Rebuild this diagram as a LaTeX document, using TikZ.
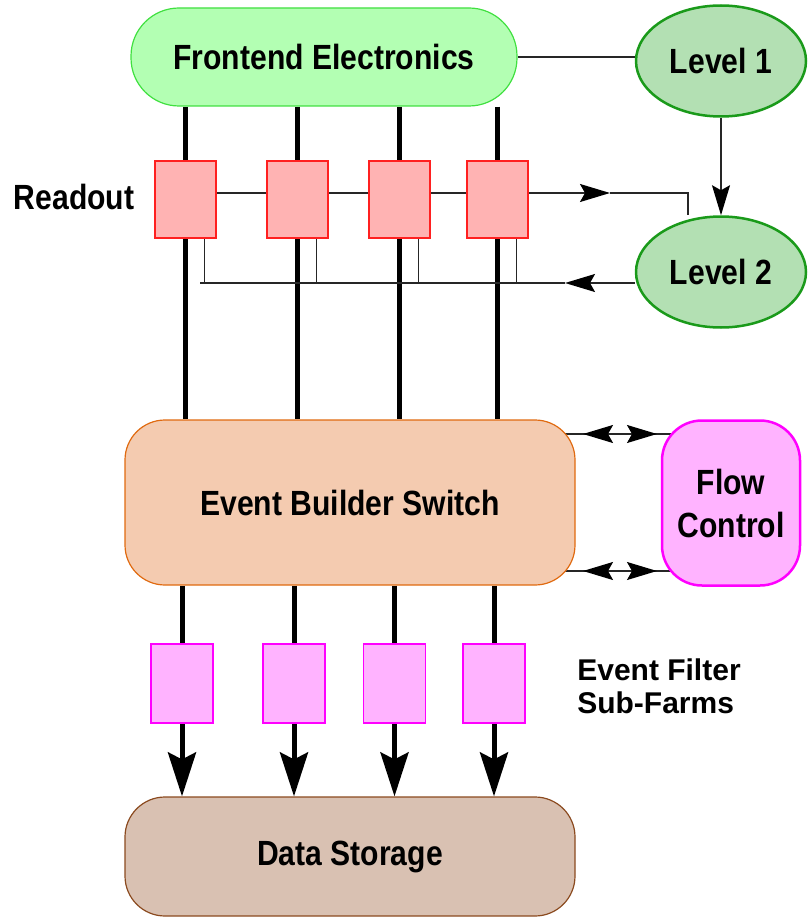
\documentclass[tikz,border=0pt]{standalone}
\usepackage{fontspec}
\setmainfont{Liberation Sans}
\usepackage{tikz}
\usetikzlibrary{arrows.meta,shapes.geometric,backgrounds}
\definecolor{feFill}{HTML}{B3FFB3}
\definecolor{feLine}{HTML}{40E040}
\definecolor{trigFill}{HTML}{B3E0B3}
\definecolor{trigLine}{HTML}{1A9A1A}
\definecolor{rdFill}{HTML}{FFB3B3}
\definecolor{rdLine}{HTML}{FF2020}
\definecolor{evbFill}{HTML}{F4CBB0}
\definecolor{evbLine}{HTML}{E06A10}
\definecolor{fcFill}{HTML}{FFB3FF}
\definecolor{fcLine}{HTML}{FF00FF}
\definecolor{dsFill}{HTML}{D9C1B2}
\definecolor{dsLine}{HTML}{8B4A1F}
\tikzset{
  txt/.style={font=\fontsize{35}{43}\selectfont\bfseries, align=center, inner sep=0pt},
  fenode/.style={txt, draw=feLine, line width=1.2pt, fill=feFill, rounded corners=48pt,
                 minimum width=386pt, minimum height=98pt},
  trignode/.style={txt, ellipse, draw=trigLine, line width=2.5pt, fill=trigFill,
                   minimum width=170pt, minimum height=111pt},
  rdbox/.style={draw=rdLine, line width=1.2pt, fill=rdFill, minimum width=61pt, minimum height=77pt},
  evbnode/.style={txt, draw=evbLine, line width=1.2pt, fill=evbFill, rounded corners=40pt,
                  minimum width=450pt, minimum height=165pt},
  flownode/.style={txt, draw=fcLine, line width=2.5pt, fill=fcFill, rounded corners=40pt,
                   minimum width=138pt, minimum height=165pt},
  farm/.style={draw=fcLine, line width=1.5pt, fill=fcFill, minimum width=62pt, minimum height=79pt},
  storenode/.style={txt, draw=dsLine, line width=1.2pt, fill=dsFill, rounded corners=40pt,
                    minimum width=450pt, minimum height=119pt},
  bus/.style={line width=5pt},
  sig/.style={line width=1.5pt, draw=black!85},
  tip/.style={-{Stealth[length=30pt,width=18pt,inset=5pt,black]}},
  bigtip/.style={-{Stealth[length=44pt,width=28pt,inset=7pt]}},
  twotip/.style={{Stealth[length=30pt,width=18pt,inset=5pt,black]}-{Stealth[length=30pt,width=18pt,inset=5pt,black]}}
}
\newcommand{\narrowlbl}[1]{\scalebox{0.86}[1]{#1}}

\begin{document}
\begin{tikzpicture}[x=1pt,y=-1pt]
  \useasboundingbox (0,0) rectangle (809,920);

  % trigger and frontend
  \node[fenode] (fe) at (324,57) {\narrowlbl{Frontend Electronics}};
  \node[trignode] (lvone) at (721,61) {\narrowlbl{Level 1}};
  \node[trignode] (lvtwo) at (721,272) {\narrowlbl{Level 2}};

  % readout units
  \foreach \i/\x in {1/185.5,2/297.5,3/399.5,4/497.5}
    \node[rdbox] (rd\i) at (\x,199.5) {};
  \node[txt] (rdlbl) at (74,197) {\narrowlbl{Readout}};

  % event builder
  \node[evbnode] (evb) at (350,502.5) {\narrowlbl{Event Builder Switch}};
  \node[flownode] (flow) at (731,503) {\narrowlbl{Flow}\\\narrowlbl{Control}};

  % filter farms and storage
  \foreach \i/\x in {1/182,2/294,3/394.5,4/494}
    \node[farm] (ef\i) at (\x,683.5) {};
  \node[txt, align=left, font=\fontsize{30}{33}\selectfont\bfseries] (eflbl) at (659,686)
    {Event Filter\\Sub-Farms};
  \node[storenode] (ds) at (350,856.5) {\narrowlbl{Data Storage}};

  \coordinate (aR) at (610,193);
  \coordinate (l2in) at (688,193);
  \coordinate (aL) at (565,283);
  \coordinate (rdend) at (200,283);
  \coordinate (fcA) at (583,434);
  \coordinate (fcB) at (657,434);
  \coordinate (fcC) at (583,571);
  \coordinate (fcD) at (657,571);

  \begin{scope}[on background layer]
    \draw[sig] (fe.east) -- (fe.east -| lvone.west);
    \draw[sig,tip] (lvone.south) -- (lvtwo.north);
    % data buses
    \foreach \i in {1,...,4}
      \draw[bus] (rd\i.center |- fe.south) -- (rd\i.center |- evb.north);
    \foreach \i in {1,...,4} {
      \draw[bus] (ef\i.north |- evb.south) -- (ef\i.north);
      \draw[bus,bigtip] (ef\i.south) -- (ef\i.south |- ds.north);
    }
    % level 2 request and decision
    \draw[sig,tip] (rd1.east |- aR) -- (aR);
    \draw[sig] (aR) -- (l2in) -- (l2in |- lvtwo.north);
    \draw[sig,tip] (lvtwo.west |- aL) -- (aL);
    \draw[sig] (aL) -- (rdend);
    \foreach \i in {1,...,4}
      \draw[sig] ([xshift=-12pt]rd\i.south east) -- ([xshift=-12pt]rd\i.south east |- aL);
    % flow control
    \draw[sig] (evb.center |- fcA) -- (flow.center |- fcA);
    \draw[sig] (evb.center |- fcC) -- (flow.center |- fcC);
    \draw[sig,twotip] (fcA) -- (fcB);
    \draw[sig,twotip] (fcC) -- (fcD);
  \end{scope}
\end{tikzpicture}
\end{document}
